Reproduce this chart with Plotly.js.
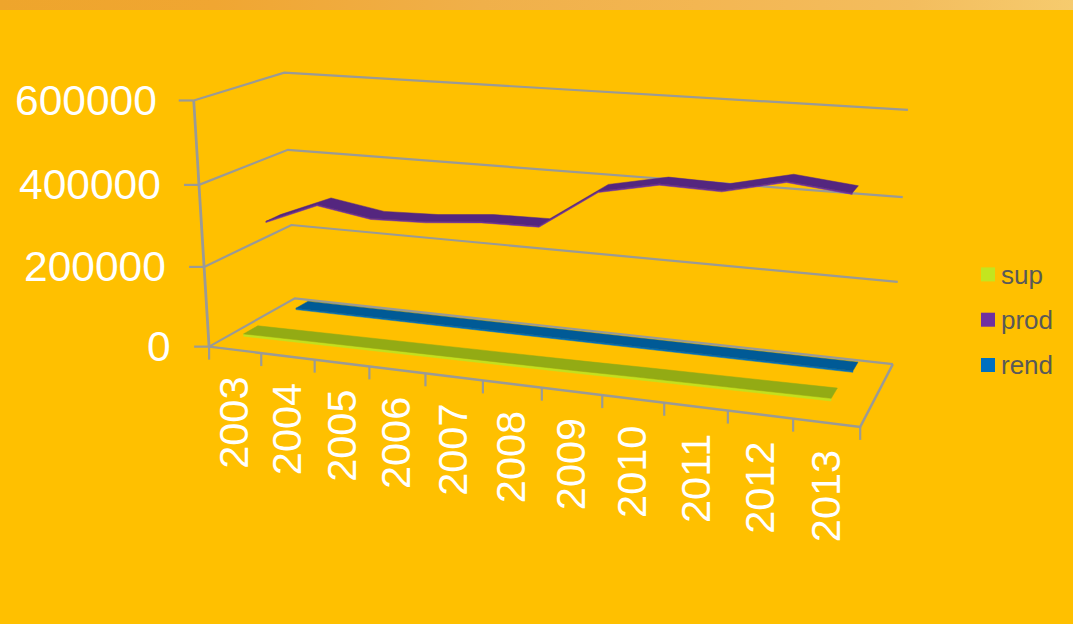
<!DOCTYPE html>
<html>
<head>
<meta charset="utf-8">
<script src="https://cdn.plot.ly/plotly-3.0.1.min.js"></script>
<style>
  html, body { margin: 0; padding: 0; background: #FFC000; overflow: hidden; }
  #banner { position: absolute; left: 0; top: 0; width: 1073px; height: 10px; z-index: 2;
    background: linear-gradient(90deg, #eea52c 0%, #f0a632 20%, #f0b04a 45%, #f3b652 65%, #f3bd5e 85%, #f6cb6e 100%); }
  #chart { position: absolute; left: 0; top: 0; width: 1073px; height: 624px; }
</style>
</head>
<body>
<div id="banner"></div>
<div id="chart"></div>
<script>
// Yearly series
const years = ['2003','2004','2005','2006','2007','2008','2009','2010','2011','2012','2013'];
const sup  = [27000,28000,29000,30000,32000,33000,34000,36000,37000,39000,40000];
const prod = [276000,330000,308000,312000,324000,326000,419000,447000,443000,475000,460000];
const rend = [16000,16000,16000,16000,16000,16000,16000,16000,16000,16000,16000];
const valueTicks = [0,200000,400000,600000];
const valueMax = 600000;

// Where the corners of the box land on the page: [u, v, w, px, py]
const boxCorners = [
  [0,0,0,209,347],[1,0,0,860,427],[0,1,0,295,298],[1,1,0,893,364],
  [0,0,1,194,100],[0,1,1,284,73],[1,1,1,908,110]
];

// Fit a projective camera to the box corners by least squares
function fitCamera(pts) {
  const rows = [], rhs = [];
  pts.forEach(([u,v,w,x,y]) => {
    rows.push([u,v,w,1,0,0,0,0,-x*u,-x*v,-x*w]); rhs.push(x);
    rows.push([0,0,0,0,u,v,w,1,-y*u,-y*v,-y*w]); rhs.push(y);
  });
  const n = 11, A = [];
  for (let i = 0; i < n; i++) {
    A.push(new Array(n + 1).fill(0));
    for (let j = 0; j < n; j++) rows.forEach(r => { A[i][j] += r[i] * r[j]; });
    rows.forEach((r, k) => { A[i][n] += r[i] * rhs[k]; });
  }
  for (let c = 0; c < n; c++) {
    let p = c;
    for (let r = c + 1; r < n; r++) if (Math.abs(A[r][c]) > Math.abs(A[p][c])) p = r;
    [A[c], A[p]] = [A[p], A[c]];
    for (let r = 0; r < n; r++) {
      if (r === c) continue;
      const f = A[r][c] / A[c][c];
      for (let k = c; k <= n; k++) A[r][k] -= f * A[c][k];
    }
  }
  return A.map((row, i) => row[n] / row[i]);
}
const cam = fitCamera(boxCorners);
function project(u, v, w) {
  const d = cam[8]*u + cam[9]*v + cam[10]*w + 1;
  return [(cam[0]*u + cam[1]*v + cam[2]*w + cam[3]) / d,
          (cam[4]*u + cam[5]*v + cam[6]*w + cam[7]) / d];
}

const frameColor = '#9a9a96';
const traces = [];
function polyline(points, color, width) {
  const p = points.map(q => project(q[0], q[1], q[2]));
  traces.push({ x: p.map(q => q[0]), y: p.map(q => q[1]), mode: 'lines', type: 'scatter',
    line: { color, width, shape: 'linear' }, hoverinfo: 'skip', showlegend: false });
}
function polygon(points, color) {
  const p = points.map(q => project(q[0], q[1], q[2]));
  p.push(p[0]);
  traces.push({ x: p.map(q => q[0]), y: p.map(q => q[1]), mode: 'lines', type: 'scatter',
    fill: 'toself', fillcolor: color, line: { color, width: 0.5 }, hoverinfo: 'skip', showlegend: false });
}

// Walls and floor
valueTicks.forEach(t => {
  const w = t / valueMax;
  polyline([[0,0,w],[0,1,w],[1,1,w]], frameColor, 2.2);
  const a = project(0,0,w);
  traces.push({ x: [a[0]-15, a[0]], y: [a[1], a[1]], mode: 'lines', type: 'scatter',
    line: { color: frameColor, width: 2.2 }, hoverinfo: 'skip', showlegend: false });
});
polyline([[0,0,0],[0,0,1]], frameColor, 2.8);
polyline([[0,0,0],[1,0,0],[1,1,0]], frameColor, 2.4);

// Category ticks under the front edge
const catCount = years.length;
for (let i = 0; i <= catCount; i++) {
  const a = project(i / catCount, 0, 0);
  traces.push({ x: [a[0], a[0]], y: [a[1], a[1] + 13], mode: 'lines', type: 'scatter',
    line: { color: frameColor, width: 2.2 }, hoverinfo: 'skip', showlegend: false });
}

// One ribbon per series: a lit top face and a thin front face
function ribbon(values, v0, v1, topColor, frontColor, thick) {
  const us = values.map((_, i) => (i + 0.5) / catCount);
  const ws = values.map(val => val / valueMax);
  const front = us.map((u, i) => [u, v0, ws[i]]);
  const under = us.map((u, i) => [u, v0, ws[i] - thick]).reverse();
  const back  = us.map((u, i) => [u, v1, ws[i]]).reverse();
  polygon(front.concat(under), frontColor);
  polygon(front.concat(back), topColor);
}
ribbon(sup,  0.10, 0.26, '#93ab14', '#c4e01e', 0.010);
ribbon(prod, 0.41, 0.58, '#54267f', '#7030a0', 0.005);
ribbon(rend, 0.71, 0.86, '#005a96', '#0070c0', 0.006);

// Legend entries
const legendColors = { sup: '#c3e51f', prod: '#7030a0', rend: '#0070c0' };
Object.keys(legendColors).forEach(name => {
  traces.push({ x: [-50], y: [-50], name, legendgroup: name, mode: 'markers', type: 'scatter',
    marker: { symbol: 'square', size: 14, color: legendColors[name] }, hoverinfo: 'skip' });
});

// Axis text
const annotations = [];
const valueLabelGap = [-36,-36,-36,-35];
valueTicks.forEach((t, i) => {
  const a = project(0, 0, t / valueMax);
  annotations.push({ x: a[0] + valueLabelGap[i], y: a[1], xref: 'x', yref: 'y',
    text: String(t), showarrow: false, xanchor: 'right', yanchor: 'middle',
    font: { family: 'Liberation Sans, Arial, sans-serif', size: 42.5, color: '#ffffff' } });
});
years.forEach((yr, i) => {
  const a = project((i + 0.5) / catCount, 0, 0);
  annotations.push({ x: a[0] - 1, y: a[1] + 25, xref: 'x', yref: 'y', text: yr, showarrow: false,
    textangle: -90, xanchor: 'center', yanchor: 'top',
    font: { family: 'Liberation Sans, Arial, sans-serif', size: 41.5, color: '#ffffff' } });
});

const layout = {
  width: 1073, height: 624,
  margin: { l: 0, r: 0, t: 0, b: 0 },
  paper_bgcolor: '#FFC000', plot_bgcolor: 'rgba(0,0,0,0)',
  xaxis: { range: [0, 1073], visible: false, fixedrange: true },
  yaxis: { range: [624, 0], visible: false, fixedrange: true },
  showlegend: true,
  legend: { x: 961 / 1073, y: 1 - 250 / 624, xanchor: 'left', yanchor: 'top',
    traceorder: 'grouped', tracegroupgap: 8.5, bgcolor: 'rgba(0,0,0,0)',
    font: { family: 'Liberation Sans, Arial, sans-serif', size: 26, color: '#595959' } },
  annotations
};

Plotly.newPlot('chart', traces, layout, { displayModeBar: false, staticPlot: true }).then(() => {
  // Pull the swatches in close to their labels
  document.querySelectorAll('#chart .legend .legendpoints').forEach(g => {
    g.setAttribute('transform', 'translate(7,1)');
  });
});
</script>
</body>
</html>
